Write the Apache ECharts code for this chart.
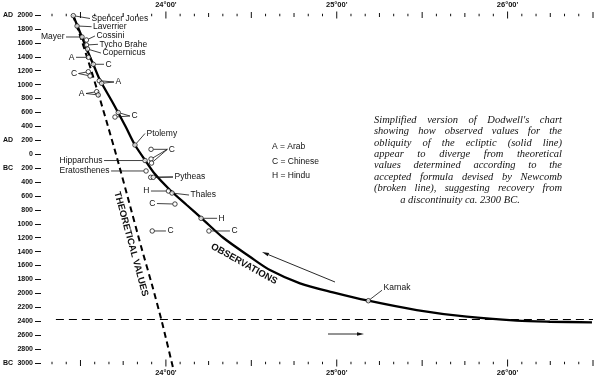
<!DOCTYPE html>
<html><head><meta charset="utf-8">
<script src="https://cdn.jsdelivr.net/npm/echarts@6/dist/echarts.min.js"></script>
<style>html,body{margin:0;padding:0;background:#fff}#c{width:600px;height:383px}</style>
</head><body><div id="c"></div>
<script>
// ---------- DATA ----------
// x: obliquity in degrees (23°20' .. 26°30'), y: year (AD positive, BC negative)
const xMin = 280 / 12, xMax = 26.5;
const yMin = -3000, yMax = 2000, yStep = 200;
const degreeLabels = [24, 25, 26];

// observed obliquity (solid line)
const observedCurve = [
  [23.456, 2000], [23.480, 1856], [23.506, 1698], [23.532, 1540], [23.556, 1397],
  [23.579, 1267], [23.614, 1066], [23.690, 736], [23.764, 398], [23.819, 132],
  [23.878, -84], [23.936, -286], [24.024, -514], [24.122, -730], [24.210, -921],
  [24.334, -1197], [24.492, -1473], [24.609, -1664], [24.785, -1855], [24.978, -1985],
  [25.185, -2105], [25.468, -2239], [25.761, -2335], [26.053, -2392], [26.248, -2407],
  [26.494, -2415]
];
// Newcomb theoretical values (broken line)
const theoreticalCurve = [
  [23.456, 2000], [23.506, 1641], [23.562, 1210], [23.614, 793], [23.664, 376],
  [23.714, -55], [23.778, -629], [23.854, -1319], [23.919, -1879], [23.977, -2411],
  [24.042, -3072]
];
// discontinuity ca. BC 2375 (horizontal broken line)
const discontinuity = [[23.28, -2375], [26.5, -2375]];

// individual observations [obliquity, year]
const obsPoints = [
  [23.458, 1990], [23.480, 1842], [23.509, 1684], [23.535, 1641], [23.535, 1569],
  [23.541, 1511], [23.547, 1392], [23.575, 1292], [23.546, 1185], [23.556, 1124],
  [23.610, 1056], [23.624, 1019], [23.595, 898], [23.604, 851], [23.721, 599],
  [23.702, 534], [23.819, 132], [23.913, 70], [23.913, -69], [23.916, -127],
  [23.878, -91], [23.884, -241], [23.911, -332], [23.926, -332], [24.015, -529],
  [24.036, -558], [24.053, -716], [24.206, -921], [24.252, -1103], [23.920, -1103],
  [25.185, -2105]
];

// labels of observations (pixel layout offsets from first point)
const labelLayout = [
  { text: 'Spencer Jones', pts: [0], dx: 16.7, dy: 2.8 },
  { text: 'Laverrier', pts: [1], dx: 14.5, dy: 0.7 },
  { text: 'Mayer', pts: [2], dx: -16, dy: 0 },
  { text: 'Cossini', pts: [3], dx: 8.5, dy: -4 },
  { text: 'Tycho Brahe', pts: [4], dx: 11.5, dy: -0.7 },
  { text: 'Copernicus', pts: [5], dx: 13.5, dy: 4 },
  { text: 'A', pts: [6], dx: -12.5, dy: 0 },
  { text: 'C', pts: [7], dx: 10.7, dy: 0 },
  { text: 'C', pts: [8, 9], dx: -9.8, dy: 1.8 },
  { text: 'A', pts: [10, 11], dx: 14.7, dy: 1.3 },
  { text: 'A', pts: [12, 13], dx: -10.7, dy: 1.8 },
  { text: 'C', pts: [14, 15], dx: 11.7, dy: 3.5 },
  { text: 'Ptolemy', pts: [16], dx: 10, dy: -11.5 },
  { text: 'C', pts: [17, 18, 19], dx: 16.3, dy: 0 },
  { text: 'Hipparchus', pts: [20], dx: -41, dy: 0 },
  { text: 'Eratosthenes', pts: [21], dx: -35, dy: 0 },
  { text: 'Pytheas', pts: [22, 23], dx: 22.3, dy: -0.3 },
  { text: 'H', pts: [24], dx: -17.5, dy: 0 },
  { text: 'Thales', pts: [25], dx: 17, dy: 2 },
  { text: 'C', pts: [26], dx: -18, dy: -0.5 },
  { text: 'H', pts: [27], dx: 16, dy: 0 },
  { text: 'C', pts: [28], dx: 21, dy: 0 },
  { text: 'C', pts: [29], dx: 13.7, dy: 0 },
  { text: 'Karnak', pts: [30], dx: 13.7, dy: -10.5, ty: -2.5 }
];

const keyLines = ['A = Arab', 'C = Chinese', 'H = Hindu'];
const captionLines = [
  "Simplified version of Dodwell's chart",
  'showing how observed values for the',
  'obliquity of the ecliptic (solid line)',
  'appear to diverge from theoretical',
  'values determined according to the',
  'accepted formula devised by Newcomb',
  '(broken line), suggesting recovery from',
  'a discontinuity ca. 2300 BC.'
];

// ---------- CHART ----------
const FONT = '"Liberation Sans", Arial, Helvetica, sans-serif';
const SERIF = '"Liberation Serif", "Times New Roman", serif';
const INK = '#111';
const chart = echarts.init(document.getElementById('c'), null, { renderer: 'canvas', width: 600, height: 383 });

// scale ticks every 5' (class: 0 = 5', 1 = 15', 2 = 30', 3 = whole degree)
const scaleTicks = [];
for (let k = 280; k <= 318; k++) {
  const cls = k % 12 === 0 ? 3 : k % 6 === 0 ? 2 : k % 3 === 0 ? 1 : 0;
  scaleTicks.push([k / 12, cls]);
}
const tickLen = [2.5, 4, 6, 7];

function labelAxis(pos) {
  return {
    type: 'value', gridIndex: 0, position: pos, min: xMin, max: xMax,
    axisLine: { show: false }, axisTick: { show: false }, splitLine: { show: false },
    axisLabel: { show: true, customValues: degreeLabels, formatter: v => Math.round(v) + "°00'",
      margin: 6, fontSize: 7.5, fontFamily: FONT, fontWeight: 'bold', color: INK }
  };
}

const graphics = [];
// key
keyLines.forEach((t, i) => graphics.push({ type: 'text', x: 272, y: 146.7 + i * 14.7, silent: true,
  style: { text: t, fontSize: 8.5, fontFamily: FONT, fill: INK, align: 'left', verticalAlign: 'middle' } }));
// caption (justified)
const ctx = document.createElement('canvas').getContext('2d');
const capSize = 10.5;
ctx.font = 'italic ' + capSize + 'px ' + SERIF;
const capLeft = 374, capRight = 562, capTop = 120, capLH = 11.43;
captionLines.forEach((line, i) => {
  const y = capTop + i * capLH;
  const st = { fontStyle: 'italic', fontSize: capSize, fontFamily: SERIF, fill: INK, verticalAlign: 'middle' };
  if (i === captionLines.length - 1) {
    graphics.push({ type: 'text', x: 460, y, silent: true, style: Object.assign({ text: line, align: 'center' }, st) });
    return;
  }
  const words = line.split(' ');
  const widths = words.map(w => ctx.measureText(w).width);
  const gap = (capRight - capLeft - widths.reduce((s, w) => s + w, 0)) / (words.length - 1);
  let x = capLeft;
  words.forEach((w, j) => {
    graphics.push({ type: 'text', x, y, silent: true, style: Object.assign({ text: w, align: 'left' }, st) });
    x += widths[j] + gap;
  });
});
// rotated labels
graphics.push({ type: 'text', x: 131, y: 244, rotation: -74.8 * Math.PI / 180, silent: true,
  style: { text: 'THEORETICAL VALUES', fontSize: 9.5, fontWeight: 'bold', fontFamily: FONT, fill: INK, align: 'center', verticalAlign: 'middle' } });
graphics.push({ type: 'text', x: 244, y: 264, rotation: -29.2 * Math.PI / 180, silent: true,
  style: { text: 'OBSERVATIONS', fontSize: 9.5, fontWeight: 'bold', fontFamily: FONT, fill: INK, align: 'center', verticalAlign: 'middle' } });
// arrows
function arrow(x1, y1, x2, y2) {
  const dx = x2 - x1, dy = y2 - y1, L = Math.hypot(dx, dy), ux = dx / L, uy = dy / L;
  const bx = x2 - ux * 7, by = y2 - uy * 7, px = -uy * 1.8, py = ux * 1.8;
  graphics.push({ type: 'line', silent: true, shape: { x1, y1, x2: bx, y2: by }, style: { stroke: INK, lineWidth: 0.9 } });
  graphics.push({ type: 'polygon', silent: true, shape: { points: [[x2, y2], [bx + px, by + py], [bx - px, by - py]] }, style: { fill: INK } });
}
arrow(335, 282, 262, 252);
arrow(328, 334, 364, 334);

const option = {
  animation: false,
  backgroundColor: '#fff',
  grid: { left: 52, right: 7, top: 15, bottom: 20, containLabel: false, outerBoundsMode: 'none' },
  xAxis: [labelAxis('bottom'), labelAxis('top')],
  yAxis: {
    type: 'value', min: yMin, max: yMax, interval: yStep, offset: 11,
    axisLine: { show: false }, splitLine: { show: false },
    axisTick: { show: true, length: 6, lineStyle: { color: INK, width: 1 } },
    axisLabel: {
      margin: 8, color: INK,
      formatter: v => {
        if (v === 2000 || v === 200) return '{p|AD}{n|' + v + '}';
        if (v === -200 || v === -3000) return '{p|BC}{n|' + (-v) + '}';
        return '{n|' + Math.abs(v) + '}';
      },
      rich: {
        p: { width: 12, align: 'left', fontSize: 7, fontWeight: 'bold', fontFamily: FONT, color: INK },
        n: { width: 18, align: 'right', fontSize: 7, fontWeight: 'bold', fontFamily: FONT, color: INK }
      }
    }
  },
  series: [
    { type: 'custom', name: 'scale ticks', data: scaleTicks, silent: true, clip: false, z: 1,
      encode: { x: 0 },
      renderItem: (params, api) => {
        const v = api.value(0), len = tickLen[api.value(1)];
        const pb = api.coord([v, yMin]), pt = api.coord([v, yMax]);
        const ls = { stroke: INK, lineWidth: 1 };
        return { type: 'group', children: [
          { type: 'line', shape: { x1: pb[0], y1: pb[1] - len / 2, x2: pb[0], y2: pb[1] + len / 2 }, style: ls },
          { type: 'line', shape: { x1: pt[0], y1: pt[1] - len / 2, x2: pt[0], y2: pt[1] + len / 2 }, style: ls }
        ] };
      } },
    { type: 'line', name: 'Theoretical', data: theoreticalCurve, showSymbol: false, clip: false, smooth: 0.2,
      lineStyle: { color: '#000', width: 2, type: [6, 4] }, z: 2 },
    { type: 'line', name: 'Discontinuity', data: discontinuity, showSymbol: false, clip: false,
      lineStyle: { color: '#000', width: 1.2, type: [8, 5] }, z: 2 },
    { type: 'line', name: 'Observations', data: observedCurve, showSymbol: false, smooth: 0.3,
      lineStyle: { color: '#000', width: 2.3 }, z: 3 },
    { type: 'scatter', name: 'Observed values', data: obsPoints, symbol: 'circle', symbolSize: 4.5,
      itemStyle: { color: '#fff', borderColor: '#000', borderWidth: 0.9 }, z: 6 },
    { type: 'custom', name: 'labels', data: labelLayout.map(a => obsPoints[a.pts[0]]), z: 5, silent: true,
      renderItem: (params, api) => {
        const a = labelLayout[params.dataIndex];
        const p0 = api.coord(obsPoints[a.pts[0]]);
        const ax = p0[0] + a.dx, ay = p0[1] + a.dy;
        const right = a.dx >= 0;
        const children = [];
        a.pts.forEach(i => {
          const p = api.coord(obsPoints[i]);
          const vx = ax - p[0], vy = ay - p[1], L = Math.hypot(vx, vy) || 1, r = 2.3;
          children.push({ type: 'line', shape: { x1: p[0] + vx / L * r, y1: p[1] + vy / L * r, x2: ax, y2: ay },
            style: { stroke: INK, lineWidth: 0.8 } });
        });
        children.push({ type: 'text', x: ax + (right ? 1.5 : -1.5), y: ay + (a.ty || 0),
          style: { text: a.text, fontSize: 8.5, fontFamily: FONT, fill: INK, align: right ? 'left' : 'right', verticalAlign: 'middle' } });
        return { type: 'group', children };
      } }
  ],
  graphic: graphics
};
chart.setOption(option);
</script></body></html>
